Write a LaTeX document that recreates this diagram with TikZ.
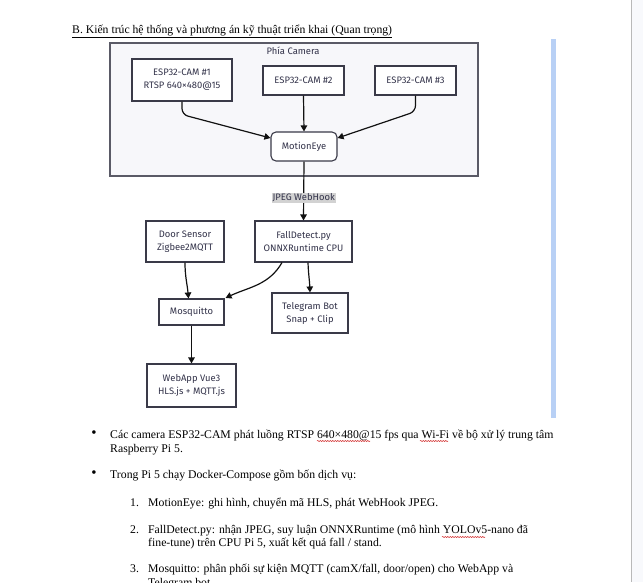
\documentclass[tikz,border=0pt]{standalone}
\usepackage{fontspec}
\setmainfont{Liberation Serif}
\newfontfamily\diagfont{Fira Sans}
\usetikzlibrary{arrows.meta,calc,decorations.pathmorphing}
\definecolor{txtc}{HTML}{33334A}
\definecolor{boxc}{HTML}{3A3A48}
\definecolor{arrc}{HTML}{111111}
\definecolor{clusterfill}{HTML}{F7F7FA}
\definecolor{clusterdraw}{HTML}{5A5A66}
\definecolor{lblfill}{HTML}{D2D2D2}
\definecolor{bluebar}{HTML}{B8D0F5}
\definecolor{rightbg}{HTML}{F8F9FC}
\definecolor{spell}{HTML}{D02020}
\begin{document}
\begin{tikzpicture}[x=1pt,y=-1pt,
  box/.style={draw=boxc, line width=1.1pt, fill=white, font=\diagfont\fontsize{9.4}{13}\selectfont, text=txtc, align=center, inner sep=0pt},
  arr/.style={draw=arrc, line width=1.2pt, -{Triangle[length=6pt,width=6.5pt]}},
  lbl/.style={fill=lblfill, font=\diagfont\fontsize{9.4}{10}\selectfont, text=txtc, inner sep=1pt},
  body/.style={font=\fontsize{11.75}{14}\selectfont, anchor=base west, inner sep=0pt, text=black},
  bul/.style={font=\fontsize{15}{16}\selectfont, anchor=center, inner sep=0pt},
  wavy/.style={draw=spell, line width=0.5pt, decorate, decoration={snake, amplitude=0.6pt, segment length=2.5pt}}
]
\useasboundingbox (0,0) rectangle (643,582);
\fill[white] (0,0) rectangle (643,582);
\fill[rightbg] (631,0) rectangle (643,582);
\draw[gray!55, line width=0.8pt] (631,0) -- (631,582);
\fill[bluebar] (551,39) rectangle (556,418);

% heading
\node[font=\fontsize{11.7}{13}\selectfont, anchor=base west, inner sep=0pt] (head) at (72,33.5) {\underline{B. Kiến trúc hệ thống và phương án kỹ thuật triển khai (Quan trọng)}};

% cluster
\draw[fill=clusterfill, draw=clusterdraw, line width=1.1pt] (110,43) rectangle (478,176);
\node[font=\diagfont\fontsize{9.4}{10}\selectfont, text=txtc] (ctitle) at (293,51) {Phía Camera};

\node[box, minimum width=100pt, minimum height=42pt] (cam1) at (182,80) {ESP32-CAM \#1\\RTSP 640×480@15};
\node[box, minimum width=81pt, minimum height=29pt] (cam2) at (303.5,80.5) {ESP32-CAM \#2};
\node[box, minimum width=81pt, minimum height=29pt] (cam3) at (415.5,80.5) {ESP32-CAM \#3};
\node[box, rounded corners=5pt, minimum width=66pt, minimum height=29pt] (me) at (304,146.5) {MotionEye};

\node[box, minimum width=97pt, minimum height=41pt] (fd) at (303.5,241.5) {FallDetect.py\\ONNXRuntime CPU};
\node[box, minimum width=78pt, minimum height=41pt] (door) at (185,241.5) {Door Sensor\\Zigbee2MQTT};
\node[box, minimum width=65pt, minimum height=26pt] (mq) at (191.5,312) {Mosquitto};
\node[box, minimum width=76pt, minimum height=40pt] (tg) at (310,313) {Telegram Bot\\Snap + Clip};
\node[box, minimum width=89pt, minimum height=43pt] (web) at (191.5,385.5) {WebApp Vue3\\HLS.js + MQTT.js};

% connectors
\draw[arr, rounded corners=6pt] (cam1.south) -- ++(0,13) -- ($(me.west)+(0,-8.5)$);
\draw[arr] (cam2.south) -- (me.north);
\draw[arr, rounded corners=6pt] (cam3.south) -- ++(0,16) -- ($(me.east)+(0,-8.5)$);
\draw[arr] (me.south) -- node[lbl, pos=0.62] (hook) {JPEG WebHook} (fd.north);
\draw[arr] (door.south) to[out=-90, in=95] ($(mq.north)+(-3,0)$);
\draw[arr] ($(fd.south)+(-21.5,0)$) to[out=-120, in=25] ($(mq.north east)+(1,-0.5)$);
\draw[arr] ($(fd.south)+(4.5,0)$) to[out=-88, in=92] (tg.north);
\draw[arr] (mq.south) -- (web.north);

% body text
\node[bul] (b1) at (94,434) {•};
\node[body] (t1) at (110,438) {Các camera ESP32-CAM phát luồng RTSP 640×480@15 fps qua Wi-Fi về bộ xử lý trung tâm};
\node[body] (t1b) at (110,452) {Raspberry Pi 5.};
\node[bul] (b2) at (94,474) {•};
\node[body] (t2) at (110,478) {Trong Pi 5 chạy Docker-Compose gồm bốn dịch vụ:};
\node[body] (n1) at (130,506) {1.};
\node[body] (i1) at (148,506) {MotionEye: ghi hình, chuyển mã HLS, phát WebHook JPEG.};
\node[body] (n2) at (130,533) {2.};
\node[body] (i2) at (148,533) {FallDetect.py: nhận JPEG, suy luận ONNXRuntime (mô hình YOLOv5-nano đã};
\node[body] (i2b) at (148,546.5) {fine-tune) trên CPU Pi 5, xuất kết quả fall / stand.};
\node[body] (n3) at (130,572) {3.};
\node[body] (i3) at (148,572) {Mosquitto: phân phối sự kiện MQTT (camX/fall, door/open) cho WebApp và};
\node[body] (i3b) at (148,586) {Telegram bot};

% spell-check underlines
\draw[wavy] (317,441) -- (370,441);
\draw[wavy] (420,441) -- (448,441);
\draw[wavy] (442,537) -- (485,537);
\end{tikzpicture}
\end{document}
